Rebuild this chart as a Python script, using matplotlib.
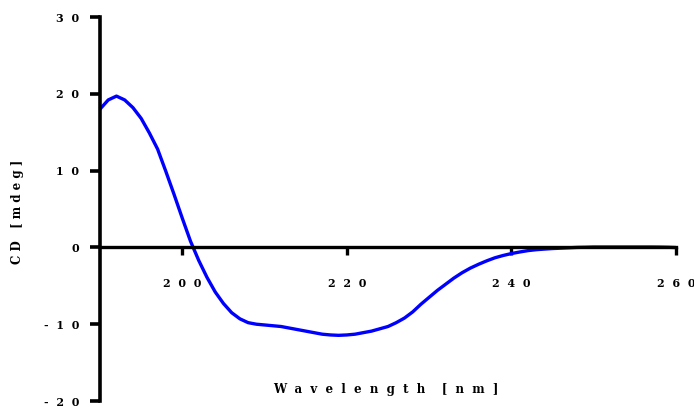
import matplotlib
matplotlib.use("Agg")
import matplotlib.pyplot as plt
import numpy as np

# CD spectrum (1 nm steps)
wavelength = list(range(190, 261))
cd_mdeg = [
    18.0, 19.2, 19.7, 19.2, 18.2, 16.8, 14.9, 12.8, 9.9, 6.9,      # 190-199
    3.8, 0.8, -1.7, -3.9, -5.8, -7.3, -8.5, -9.3, -9.8, -10.0,     # 200-209
    -10.1, -10.2, -10.3, -10.5, -10.7, -10.9, -11.1, -11.3, -11.4, -11.45,  # 210-219
    -11.4, -11.3, -11.1, -10.9, -10.6, -10.3, -9.8, -9.2, -8.4, -7.4,       # 220-229
    -6.5, -5.6, -4.8, -4.0, -3.3, -2.7, -2.2, -1.75, -1.35, -1.05,  # 230-239
    -0.8, -0.6, -0.42, -0.3, -0.22, -0.15, -0.1, -0.05, 0.0, 0.02,  # 240-249
    0.05, 0.05, 0.05, 0.05, 0.05, 0.05, 0.05, 0.05, 0.04, 0.02,    # 250-259
    -0.02,                                                          # 260
]

x_ticks = [200, 220, 240, 260]
y_ticks = [-20, -10, 0, 10, 20, 30]
x_label = ["Wavelength", "[nm]"]
y_label = ["CD", "[mdeg]"]

FONT = dict(family="DejaVu Serif", fontweight="bold")


def spaced(s, gap=" "):
    return gap.join(s)


fig = plt.figure(figsize=(6.94, 4.09), dpi=100)
ax = fig.add_axes([100 / 694, 8 / 409, 576 / 694, 384 / 409])

ax.plot(wavelength, cd_mdeg, color="#0000ff", lw=2.4, solid_capstyle="round")

ax.set_xlim(190, 260)
ax.set_ylim(-20, 30)

for side in ("top", "right"):
    ax.spines[side].set_visible(False)
ax.spines["left"].set_linewidth(2.6)
ax.spines["bottom"].set_linewidth(2.4)
ax.spines["bottom"].set_position(("data", 0))

ax.set_xticks(x_ticks)
ax.set_xticklabels([spaced(str(t), "  ") for t in x_ticks], fontsize=8, **FONT)
ax.set_yticks(y_ticks)
ax.set_yticklabels([spaced(str(t), "  ") for t in y_ticks], fontsize=8, **FONT)

ax.tick_params(axis="y", direction="out", length=7, width=2.6, pad=8)
ax.tick_params(axis="x", direction="out", length=6, width=2.4, pad=16)

fig.text(18 / 694, 1 - 212 / 409, "   ".join(spaced(w) for w in y_label),
         rotation=90, ha="center", va="center", fontsize=8.5, **FONT)
fig.text(386 / 694, 1 - 389 / 409, "    ".join(spaced(w, "  ") for w in x_label),
         ha="center", va="center", fontsize=8.5, **FONT)

fig.savefig("out.png", dpi=100)
